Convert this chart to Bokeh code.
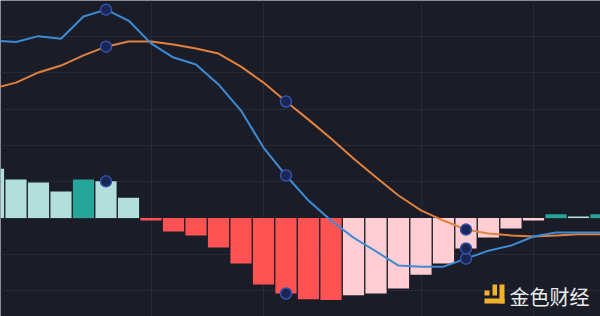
from bokeh.plotting import figure
from bokeh.models import Range1d, FixedTicker, ColumnDataSource, Label, BoxAnnotation
from bokeh.embed import file_html
from bokeh.resources import INLINE

# ---- data (bar index = time step) ----
idx = list(range(-1, 27))
hist = [13.6, 10.6, 9.8, 7.3, 10.6, 10.1, 5.6, -0.7, -3.7, -4.8, -8.1, -12.5, -18.3, -20.8,
        -22.4, -22.6, -21.3, -20.8, -19.4, -15.6, -12.5, -8.4, -5.4, -2.9, -0.7, 1.0, 0.4, 1.0]
macd = [48.9, 48.5, 50.1, 49.4, 55.5, 57.4, 54.4, 48.1, 44.2, 42.3, 36.8, 29.6, 19.4, 11.7,
        4.8, -0.7, -5.4, -9.2, -13.1, -13.4, -13.4, -11.2, -9.0, -7.6, -5.1, -4.0, -4.0, -4.0]
signal = [35.7, 37.3, 40.1, 42.0, 44.8, 47.2, 48.6, 48.6, 47.8, 46.7, 45.3, 41.7, 37.3, 32.1,
          27.1, 21.9, 16.4, 11.2, 6.2, 2.1, -0.7, -3.2, -4.3, -4.8, -5.1, -4.8, -4.5, -4.5]
highlight = [4, 12, 20]
vgrid_ticks = [6, 11, 18, 23]
hgrid_ticks = [-20, -10, 0, 10, 20, 30, 40, 50]

# ---- style ----
BG = "#1a1d28"
GRID = "#262a37"
TEAL, LIGHT, RED, PINK = "#26a69a", "#b2dfdb", "#ff5252", "#ffcdd2"
BLUE, ORANGE = "#3d8bd4", "#e2803d"

colors = []
for k, v in enumerate(hist):
    prev = hist[k - 1] if k > 0 else v + 1
    if v >= 0:
        colors.append(TEAL if v > prev else LIGHT)
    else:
        colors.append(PINK if v > prev else RED)

# pixel mapping helpers (for the watermark only)
X0, DX = 15.5, 22.5
Y0, DY = 217.5, 3.63
def px_x(px):
    return (px - X0) / DX
def px_y(py):
    return (Y0 - py) / DY

p = figure(width=600, height=316, output_backend="svg", toolbar_location=None,
           x_range=Range1d(px_x(0), px_x(600)), y_range=Range1d(px_y(316), px_y(0)),
           min_border=0, background_fill_color=BG, border_fill_color=BG,
           outline_line_color=None)
p.xaxis.visible = False
p.yaxis.visible = False
p.xgrid.ticker = FixedTicker(ticks=vgrid_ticks)
p.ygrid.ticker = FixedTicker(ticks=hgrid_ticks)
p.xgrid.grid_line_color = GRID
p.ygrid.grid_line_color = GRID
p.xgrid.grid_line_width = 1
p.ygrid.grid_line_width = 1

src = ColumnDataSource(dict(x=idx, h=hist, c=colors, m=macd, s=signal))
p.vbar(x="x", top="h", bottom=0, width=0.94, fill_color="c", line_color=None, source=src)
p.line("x", "s", source=src, line_color=ORANGE, line_width=2)
p.line("x", "m", source=src, line_color=BLUE, line_width=2)

hx, hy = [], []
for h in highlight:
    k = idx.index(h)
    for arr in (macd, signal, hist):
        hx.append(h)
        hy.append(arr[k])
p.scatter(hx, hy, size=11, fill_color="#1b2656", line_color="#3452aa", line_width=1.5)

# watermark logo + text
GOLD = "#f2b12a"
for l, r, t, b in [(484, 489, 290, 295), (492, 496.5, 284, 295), (499, 504, 284, 303), (484, 504, 298, 303)]:
    p.add_layout(BoxAnnotation(left=px_x(l), right=px_x(r), top=px_y(t), bottom=px_y(b),
                               fill_color=GOLD, fill_alpha=1, line_color=None))
p.add_layout(Label(x=px_x(509), y=px_y(296), text="金色财经", text_color="#ececec",
                   text_font="Noto Sans CJK SC", text_font_size="20px",
                   text_baseline="middle", text_align="left"))

open("out.html", "w").write(file_html(p, INLINE))
